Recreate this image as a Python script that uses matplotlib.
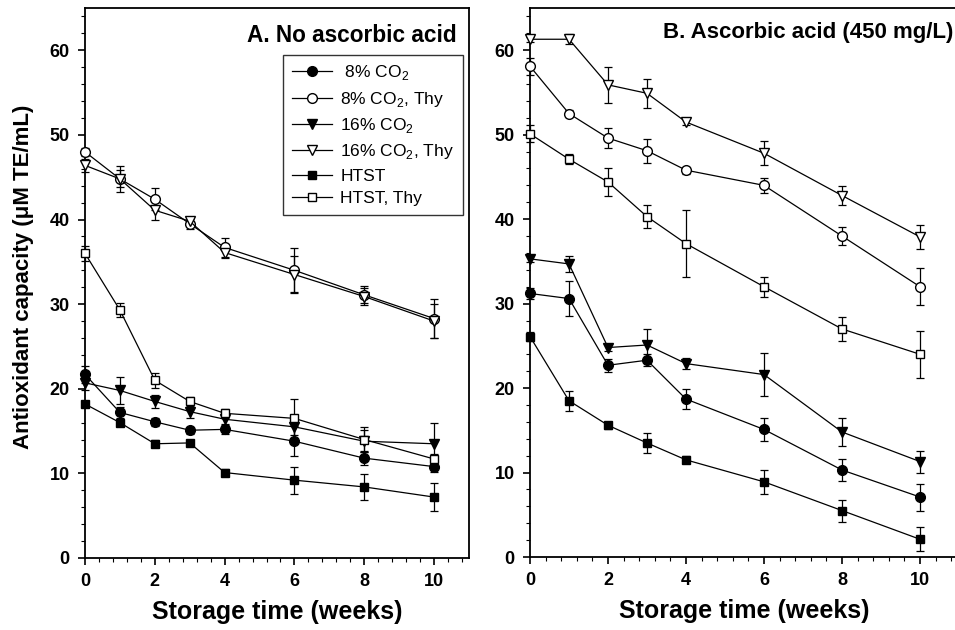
import matplotlib
matplotlib.use("Agg")
import matplotlib.pyplot as plt
from matplotlib.ticker import MultipleLocator

plt.rcParams['font.family'] = ['Liberation Sans', 'DejaVu Sans']
plt.rcParams['mathtext.fontset'] = 'custom'
plt.rcParams['mathtext.rm'] = 'Liberation Sans'

weeks = [0, 1, 2, 3, 4, 6, 8, 10]
labels = [' 8% CO$_2$', '8% CO$_2$, Thy', '16% CO$_2$', '16% CO$_2$, Thy', 'HTST', 'HTST, Thy']

# Panel A: no ascorbic acid
a_co2_8 = [21.7, 17.2, 16.1, 15.1, 15.2, 13.8, 11.8, 10.8]
a_co2_8_err = [1.0, 0.6, 0.5, 0.4, 0.5, 1.8, 0.8, 0.6]
a_co2_8_thy = [48.0, 44.8, 42.4, 39.5, 36.7, 34.0, 31.1, 28.3]
a_co2_8_thy_err = [0.5, 1.0, 1.3, 0.6, 1.1, 2.6, 1.0, 2.3]
a_co2_16 = [20.7, 19.8, 18.5, 17.3, 16.4, 15.5, 13.8, 13.5]
a_co2_16_err = [0.8, 1.6, 0.8, 0.8, 0.6, 1.0, 1.3, 2.4]
a_co2_16_thy = [46.4, 44.8, 41.1, 39.8, 36.1, 33.5, 30.9, 28.0]
a_co2_16_thy_err = [0.8, 1.5, 1.1, 0.5, 0.6, 2.2, 1.0, 2.0]
a_htst = [18.2, 16.0, 13.5, 13.6, 10.1, 9.2, 8.4, 7.2]
a_htst_err = [0.4, 0.4, 0.4, 0.4, 0.4, 1.6, 1.5, 1.7]
a_htst_thy = [36.0, 29.3, 21.0, 18.5, 17.1, 16.5, 14.0, 11.7]
a_htst_thy_err = [0.9, 0.8, 0.9, 0.5, 0.5, 2.3, 1.5, 0.6]

# Panel B: ascorbic acid (450 mg/L)
b_co2_8 = [31.2, 30.6, 22.7, 23.3, 18.7, 15.1, 10.3, 7.1]
b_co2_8_err = [0.6, 2.1, 0.8, 0.7, 1.2, 1.4, 1.3, 1.6]
b_co2_8_thy = [58.1, 52.5, 49.6, 48.1, 45.8, 44.0, 38.0, 32.0]
b_co2_8_thy_err = [1.0, 0.4, 1.2, 1.4, 0.4, 0.9, 1.1, 2.2]
b_co2_16 = [35.3, 34.7, 24.8, 25.1, 22.9, 21.6, 14.8, 11.3]
b_co2_16_err = [0.4, 0.9, 0.4, 1.9, 0.7, 2.5, 1.7, 1.3]
b_co2_16_thy = [61.3, 61.3, 55.9, 54.9, 51.5, 47.8, 42.8, 37.9]
b_co2_16_thy_err = [0.3, 0.6, 2.1, 1.7, 0.3, 1.4, 1.1, 1.4]
b_htst = [26.1, 18.5, 15.6, 13.5, 11.5, 8.9, 5.5, 2.1]
b_htst_err = [0.5, 1.2, 0.4, 1.2, 0.4, 1.4, 1.3, 1.4]
b_htst_thy = [50.1, 47.1, 44.4, 40.3, 37.1, 32.0, 27.0, 24.0]
b_htst_thy_err = [1.0, 0.6, 1.7, 1.4, 4.0, 1.2, 1.4, 2.8]

styles = [
    dict(marker='o', mfc='black', ms=7),
    dict(marker='o', mfc='white', ms=7),
    dict(marker='v', mfc='black', ms=7.5),
    dict(marker='v', mfc='white', ms=7.5),
    dict(marker='s', mfc='black', ms=6),
    dict(marker='s', mfc='white', ms=6),
]

panel_a = [(a_co2_8, a_co2_8_err), (a_co2_8_thy, a_co2_8_thy_err),
           (a_co2_16, a_co2_16_err), (a_co2_16_thy, a_co2_16_thy_err),
           (a_htst, a_htst_err), (a_htst_thy, a_htst_thy_err)]
panel_b = [(b_co2_8, b_co2_8_err), (b_co2_8_thy, b_co2_8_thy_err),
           (b_co2_16, b_co2_16_err), (b_co2_16_thy, b_co2_16_thy_err),
           (b_htst, b_htst_err), (b_htst_thy, b_htst_thy_err)]

fig = plt.figure(figsize=(9.55, 6.3), dpi=100)
axA = fig.add_axes([85/955, 72/630, 384/955, 550/630])
axB = fig.add_axes([530/955, 73/630, 429/955, 549/630])


def draw(ax, data):
    handles = []
    for (vals, errs), st, lab in zip(data, styles, labels):
        eb = ax.errorbar(weeks, vals, yerr=errs, fmt='none', ecolor='black',
                         elinewidth=0.9, capsize=3, capthick=0.9, zorder=2)
        for art in eb.lines[1] + eb.lines[2]:
            art.set_clip_on(False)
        h, = ax.plot(weeks, vals, color='black', lw=0.9, marker=st['marker'],
                     ms=st['ms'], mfc=st['mfc'], mec='black', mew=1.0,
                     label=lab, zorder=3, clip_on=False)
        handles.append(h)
    ax.set_xlim(0, 11)
    ax.set_ylim(0, 65)
    ax.xaxis.set_major_locator(MultipleLocator(2))
    ax.xaxis.set_minor_locator(MultipleLocator(0.4))
    ax.yaxis.set_major_locator(MultipleLocator(10))
    ax.yaxis.set_minor_locator(MultipleLocator(2))
    ax.tick_params(which='major', direction='out', length=5, width=1.2,
                   labelsize=13, pad=6)
    ax.tick_params(which='minor', direction='out', length=3, width=0.8)
    for lab in ax.get_xticklabels() + ax.get_yticklabels():
        lab.set_fontweight('bold')
    for sp in ax.spines.values():
        sp.set_linewidth(1.3)
    ax.set_xlabel('Storage time (weeks)', fontsize=18, fontweight='bold', labelpad=7)
    return handles


hA = draw(axA, panel_a)
hB = draw(axB, panel_b)

axA.text(10.65, 61.8, 'A. No ascorbic acid', ha='right', va='center',
         fontsize=16.3, fontweight='bold')
axB.text(10.85, 62.1, 'B. Ascorbic acid (450 mg/L)', ha='right', va='center',
         fontsize=16, fontweight='bold')

leg = axA.legend(handles=hA, loc='upper left', bbox_to_anchor=(0.516, 0.915),
                 fontsize=12.5, frameon=True, fancybox=False, edgecolor='black',
                 borderaxespad=0, handlelength=2.3, labelspacing=0.42,
                 borderpad=0.5, handletextpad=0.5)
leg.get_frame().set_linewidth(1.0)

fig.text(24/955, 0.56, 'Antioxidant capacity (\u03bcM TE/mL)', rotation=90,
         ha='center', va='center', fontsize=16, fontweight='bold')

fig.savefig('out.png', dpi=100)
